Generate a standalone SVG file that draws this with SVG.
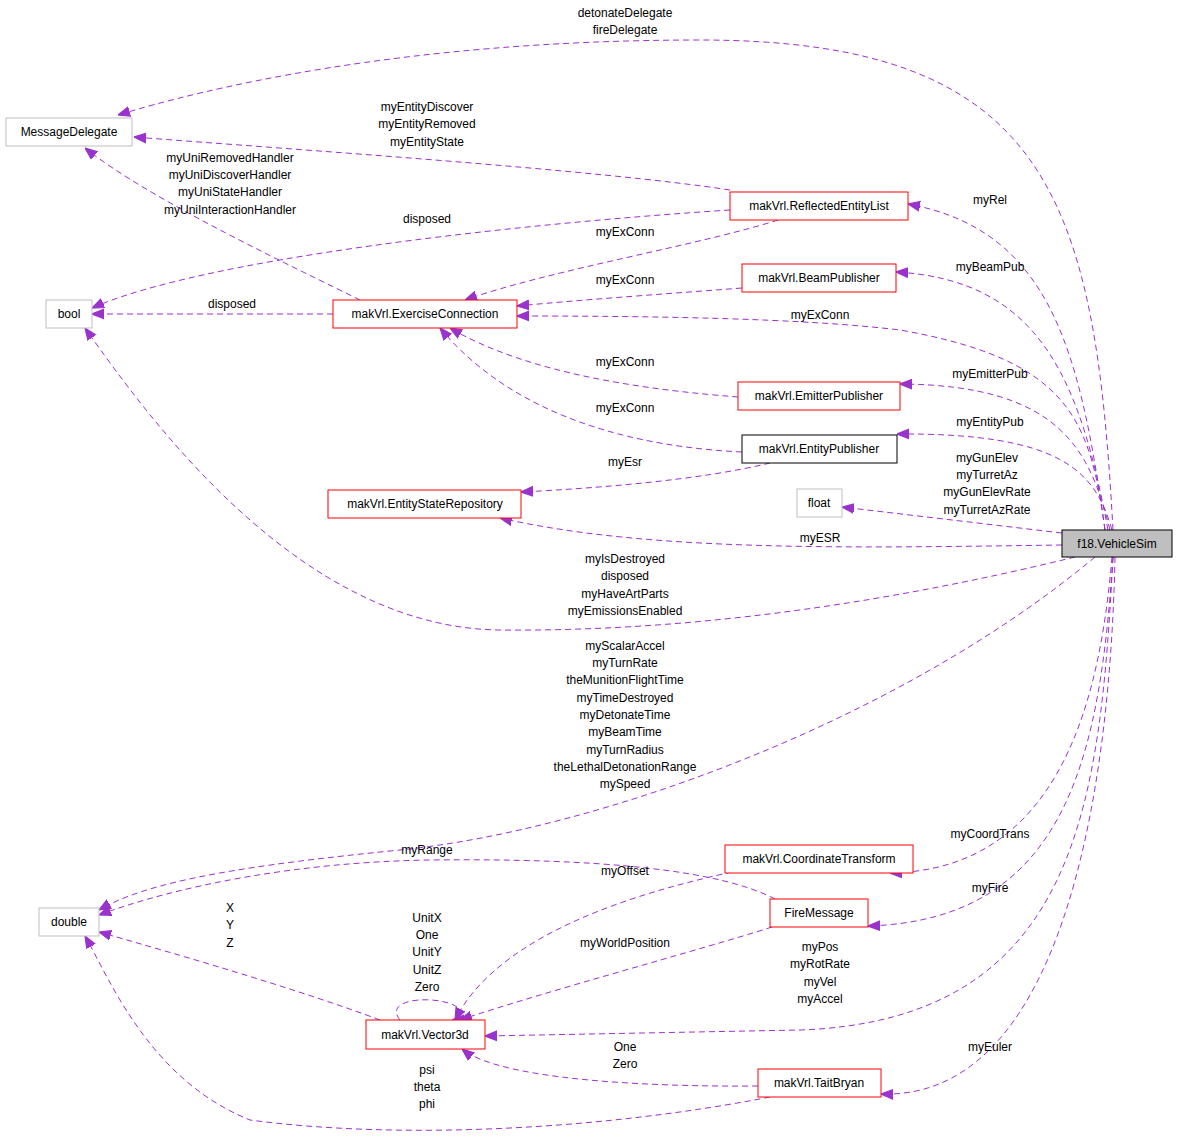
<svg xmlns="http://www.w3.org/2000/svg" width="1179" height="1142" viewBox="0 0 1179 1142">
<style>
text{font-family:"Liberation Sans",Arial,sans-serif;font-size:12px;fill:#000;text-anchor:middle}
.e{fill:none;stroke:#9a32cd;stroke-dasharray:6,4;stroke-width:1;marker-end:url(#a)}
.r{fill:#fff;stroke:#f00}
.g{fill:#fff;stroke:#bfbfbf}
.k{fill:#fff;stroke:#000}
</style>
<defs><marker id="a" viewBox="0 0 10 10" refX="10" refY="5" markerWidth="12" markerHeight="12" markerUnits="userSpaceOnUse" orient="auto"><path d="M0,1 L10,5 L0,9 z" fill="#9a32cd" stroke="#9a32cd"/></marker></defs>
<g id="connectors">
<path class="e" d="M1113,530 C1095,200 1050,40 700,40 C400,40 200,90 118,115"/>
<text x="625" y="17">detonateDelegate</text><text x="625" y="34">fireDelegate</text>
<path class="e" d="M730,190 C600,170 300,150 134,137"/>
<text x="427" y="111">myEntityDiscover</text><text x="427" y="128">myEntityRemoved</text><text x="427" y="146">myEntityState</text>
<path class="e" d="M360,300 C300,270 150,200 85,148"/>
<text x="230" y="162">myUniRemovedHandler</text><text x="230" y="179">myUniDiscoverHandler</text><text x="230" y="196">myUniStateHandler</text><text x="230" y="214">myUniInteractionHandler</text>
<path class="e" d="M730,210 C500,225 200,260 92,308"/>
<text x="427" y="223">disposed</text>
<path class="e" d="M778,220 C700,245 550,270 465,300"/>
<text x="625" y="236">myExConn</text>
<path class="e" d="M742,288 C650,295 580,300 517,306"/>
<text x="625" y="284">myExConn</text>
<path class="e" d="M333,314 L92,314"/>
<text x="232" y="308">disposed</text>
<path class="e" d="M1105,530 C1090,420 1070,360 900,330 C800,318 650,316 517,316"/>
<text x="820" y="319">myExConn</text>
<path class="e" d="M738,397 C650,390 530,375 450,328"/>
<text x="625" y="366">myExConn</text>
<path class="e" d="M742,452 C600,445 500,400 440,328"/>
<text x="625" y="412">myExConn</text>
<path class="e" d="M770,463 C700,480 600,488 521,492"/>
<text x="625" y="466">myEsr</text>
<path class="e" d="M1105,530 C1080,350 1050,230 908,204"/>
<text x="990" y="204">myRel</text>
<path class="e" d="M1108,530 C1080,380 1040,280 896,272"/>
<text x="990" y="271">myBeamPub</text>
<path class="e" d="M1110,530 C1090,450 1060,385 900,384"/>
<text x="990" y="378">myEmitterPub</text>
<path class="e" d="M1112,530 C1095,470 1060,433 897,434"/>
<text x="990" y="426">myEntityPub</text>
<path class="e" d="M1062,533 L842,507"/>
<text x="987" y="462">myGunElev</text><text x="987" y="479">myTurretAz</text><text x="987" y="496">myGunElevRate</text><text x="987" y="514">myTurretAzRate</text>
<path class="e" d="M1062,545 C850,548 650,552 500,518"/>
<text x="820" y="542">myESR</text>
<path class="e" d="M1075,557 C900,600 700,632 500,630 C300,628 150,420 85,328"/>
<text x="625" y="563">myIsDestroyed</text><text x="625" y="580">disposed</text><text x="625" y="598">myHaveArtParts</text><text x="625" y="615">myEmissionsEnabled</text>
<path class="e" d="M1095,557 C900,720 600,830 400,850 C250,865 150,880 99,910"/>
<text x="625" y="650">myScalarAccel</text><text x="625" y="667">myTurnRate</text><text x="625" y="684">theMunitionFlightTime</text><text x="625" y="702">myTimeDestroyed</text><text x="625" y="719">myDetonateTime</text><text x="625" y="736">myBeamTime</text><text x="625" y="754">myTurnRadius</text><text x="625" y="771">theLethalDetonationRange</text><text x="625" y="788">mySpeed</text>
<path class="e" d="M775,899 C720,870 600,858 430,860 C300,862 180,885 99,915"/>
<text x="427" y="854">myRange</text>
<path class="e" d="M732,872 C650,890 500,930 455,1020"/>
<text x="625" y="875">myOffset</text>
<path class="e" d="M1112,557 C1100,700 1060,870 890,873"/>
<text x="990" y="838">myCoordTrans</text>
<path class="e" d="M1113,557 C1100,750 1070,920 868,926"/>
<text x="990" y="892">myFire</text>
<path class="e" d="M380,1020 C300,990 180,955 99,932"/>
<text x="230" y="912">X</text><text x="230" y="929">Y</text><text x="230" y="947">Z</text>
<path class="e" d="M400,1020 C380,995 450,995 460,1010 C462,1015 458,1020 452,1020"/>
<text x="427" y="922">UnitX</text><text x="427" y="939">One</text><text x="427" y="956">UnitY</text><text x="427" y="974">UnitZ</text><text x="427" y="991">Zero</text>
<path class="e" d="M772,927 C700,950 550,990 460,1020"/>
<text x="625" y="947">myWorldPosition</text>
<path class="e" d="M1113,557 C1100,800 1080,1020 800,1030 L485,1036"/>
<text x="820" y="951">myPos</text><text x="820" y="968">myRotRate</text><text x="820" y="986">myVel</text><text x="820" y="1003">myAccel</text>
<path class="e" d="M758,1086 C650,1087 500,1080 462,1049"/>
<text x="625" y="1051">One</text><text x="625" y="1068">Zero</text>
<path class="e" d="M1115,557 C1110,800 1060,1100 881,1094"/>
<text x="990" y="1051">myEuler</text>
<path class="e" d="M770,1097 C600,1130 400,1140 250,1120 C150,1080 110,980 85,936"/>
<text x="427" y="1074">psi</text><text x="427" y="1091">theta</text><text x="427" y="1108">phi</text>
</g>
<g id="MessageDelegate"><rect class="g" x="6" y="118" width="126" height="28"/><text x="69" y="136">MessageDelegate</text></g>
<g id="bool"><rect class="g" x="46" y="300" width="46" height="28"/><text x="69" y="318">bool</text></g>
<g id="double"><rect class="g" x="39" y="908" width="60" height="28"/><text x="69" y="926">double</text></g>
<g id="ReflectedEntityList"><rect class="r" x="730" y="192" width="178" height="28"/><text x="819" y="210">makVrl.ReflectedEntityList</text></g>
<g id="BeamPublisher"><rect class="r" x="742" y="264" width="154" height="28"/><text x="819" y="282">makVrl.BeamPublisher</text></g>
<g id="ExerciseConnection"><rect class="r" x="333" y="300" width="184" height="28"/><text x="425" y="318">makVrl.ExerciseConnection</text></g>
<g id="EmitterPublisher"><rect class="r" x="738" y="382" width="162" height="28"/><text x="819" y="400">makVrl.EmitterPublisher</text></g>
<g id="EntityPublisher"><rect class="k" x="742" y="435" width="155" height="28"/><text x="819" y="453">makVrl.EntityPublisher</text></g>
<g id="EntityStateRepository"><rect class="r" x="328" y="490" width="193" height="28"/><text x="425" y="508">makVrl.EntityStateRepository</text></g>
<g id="float"><rect class="g" x="797" y="489" width="45" height="28"/><text x="819" y="507">float</text></g>
<g id="VehicleSim"><rect x="1062" y="530" width="110" height="27" fill="#bfbfbf" stroke="#000"/><text x="1117" y="548">f18.VehicleSim</text></g>
<g id="CoordinateTransform"><rect class="r" x="725" y="845" width="188" height="28"/><text x="819" y="863">makVrl.CoordinateTransform</text></g>
<g id="FireMessage"><rect class="r" x="770" y="899" width="98" height="28"/><text x="819" y="917">FireMessage</text></g>
<g id="Vector3d"><rect class="r" x="366" y="1020" width="119" height="29"/><text x="425" y="1039">makVrl.Vector3d</text></g>
<g id="TaitBryan"><rect class="r" x="758" y="1069" width="123" height="28"/><text x="819" y="1087">makVrl.TaitBryan</text></g>
</svg>
